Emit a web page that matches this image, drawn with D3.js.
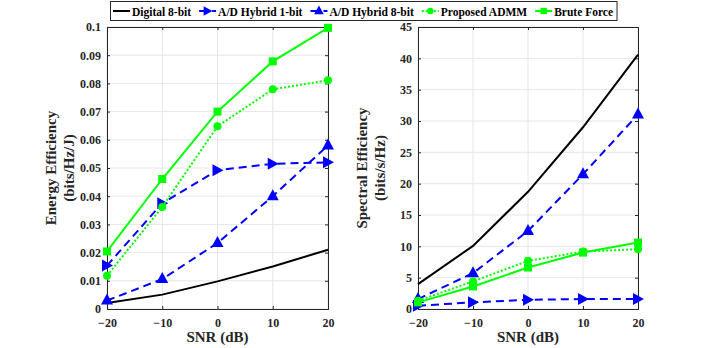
<!DOCTYPE html>
<html>
<head>
<meta charset="utf-8">
<script src="https://cdn.jsdelivr.net/npm/d3@7"></script>
<style>
  body { margin: 0; background: white; }
  svg text { font-family: "Liberation Serif", "Times New Roman", Times, "DejaVu Serif", serif !important; font-weight: bold; fill: #262626; }
</style>
</head>
<body>
<div id="chart"></div>
<script>
const snr = [-20, -10, 0, 10, 20]

// energy efficiency (bits/Hz/J)
const eeDigital = [0.0021, 0.0051, 0.0098, 0.0151, 0.021]
const eeHybrid1 = [0.0154, 0.0375, 0.0492, 0.0515, 0.052]
const eeHybrid8 = [0.003, 0.0106, 0.0234, 0.040, 0.058]
const eeAdmm = [0.0118, 0.0362, 0.0648, 0.0779, 0.0811]
const eeBrute = [0.0204, 0.0461, 0.070, 0.0878, 0.0997]

// spectral efficiency (bits/s/Hz)
const seDigital = [3.97, 10.07, 18.7, 29.0, 40.6]
const seHybrid1 = [0.53, 1.06, 1.48, 1.59, 1.59]
const seHybrid8 = [1.59, 5.72, 12.45, 21.5, 31.05]
const seAdmm = [1.32, 4.4, 7.68, 9.17, 9.54]
const seBrute = [1.06, 3.6, 6.62, 9.0, 10.6]

const eeTicks = [0, 0.01, 0.02, 0.03, 0.04, 0.05, 0.06, 0.07, 0.08, 0.09, 0.1]
const seTicks = [0, 5, 10, 15, 20, 25, 30, 35, 40, 45]

const seriesStyle = [
  {name: "Digital 8-bit", color: "#000000", dash: null, marker: null},
  {name: "A/D Hybrid 1-bit", color: "#0000ff", dash: "8,5", marker: "right"},
  {name: "A/D Hybrid 8-bit", color: "#0000ff", dash: "8,5", marker: "up"},
  {name: "Proposed ADMM", color: "#00ff00", dash: "2,2", marker: "circle"},
  {name: "Brute Force", color: "#00ff00", dash: null, marker: "square"}
]

const width = 706, height = 348
const svg = d3.select("#chart").append("svg")
  .attr("width", width).attr("height", height)

function drawMarker(g, type, x, y, color, s = 1) {
  if (type === "right") {
    g.append("path").attr("d", `M${x-5*s},${y-6*s}L${x+6*s},${y}L${x-5*s},${y+6*s}Z`).attr("fill", color)
  } else if (type === "up") {
    g.append("path").attr("d", `M${x},${y-7*s}L${x+6*s},${y+4*s}L${x-6*s},${y+4*s}Z`).attr("fill", color)
  } else if (type === "circle") {
    g.append("circle").attr("cx", x).attr("cy", y).attr("r", 4*s).attr("fill", color)
  } else if (type === "square") {
    g.append("rect").attr("x", x-4*s).attr("y", y-4*s).attr("width", 8*s).attr("height", 8*s).attr("fill", color)
  }
}

function panel(left, right, yMax, ticks, fmt, data, titleLines) {
  const top = 27, bottom = 309
  const x = d3.scaleLinear().domain([-20, 20]).range([left, right])
  const y = d3.scaleLinear().domain([0, yMax]).range([bottom, top])
  const g = svg.append("g")

  // grid
  g.selectAll("line.gx").data(snr).join("line")
    .attr("x1", d => x(d)).attr("x2", d => x(d)).attr("y1", top).attr("y2", bottom)
    .attr("stroke", "#e6e6e6").attr("stroke-width", 1)
  g.selectAll("line.gy").data(ticks).join("line").attr("class", "gy")
    .attr("x1", left).attr("x2", right).attr("y1", d => y(d)).attr("y2", d => y(d))
    .attr("stroke", "#e6e6e6").attr("stroke-width", 1)

  // axes with inward ticks
  g.append("g").attr("transform", `translate(0,${bottom})`)
    .call(d3.axisBottom(x).tickValues(snr).tickSize(-3).tickPadding(9).tickFormat(d3.format("d")))
  g.append("g").attr("transform", `translate(${left},0)`)
    .call(d3.axisLeft(y).tickValues(ticks).tickSize(-3).tickPadding(6).tickFormat(fmt))
  g.append("g").attr("transform", `translate(0,${top})`)
    .call(d3.axisTop(x).tickValues(snr).tickSize(-3).tickFormat(""))
  g.append("g").attr("transform", `translate(${right},0)`)
    .call(d3.axisRight(y).tickValues(ticks).tickSize(-3).tickFormat(""))
  g.selectAll(".domain").attr("stroke", "#262626")
  g.selectAll(".tick line").attr("stroke", "#262626")
  g.selectAll(".tick text").style("font-size", "12px")

  // series
  const line = d3.line().x((d, i) => x(snr[i])).y(d => y(d))
  data.forEach((vals, k) => {
    const s = seriesStyle[k]
    g.append("path").datum(vals).attr("d", line)
      .attr("fill", "none").attr("stroke", s.color).attr("stroke-width", 2)
      .attr("stroke-dasharray", s.dash)
    vals.forEach((v, i) => drawMarker(g, s.marker, x(snr[i]), y(v), s.color))
  })

  // titles
  g.append("text").attr("x", (left + right) / 2).attr("y", 342)
    .attr("text-anchor", "middle").style("font-size", "15px").text("SNR (dB)")
  const cy = (top + bottom) / 2
  titleLines.forEach((t, i) => {
    const tx = left - 51 + i * 18
    g.append("text").attr("transform", `translate(${tx},${cy}) rotate(-90)`)
      .attr("text-anchor", "middle").style("font-size", "15px").text(t)
  })
}

panel(107, 328, 0.1, eeTicks, d => d === 0 ? "0" : d3.format(".2~f")(d),
  [eeDigital, eeHybrid1, eeHybrid8, eeAdmm, eeBrute],
  ["Energy Efficiency", "(bits/Hz/J)"])
panel(418, 638, 45, seTicks, d3.format("d"),
  [seDigital, seHybrid1, seHybrid8, seAdmm, seBrute],
  ["Spectral Efficiency", "(bits/s/Hz)"])

// legend
const lg = svg.append("g")
const box = lg.append("rect").attr("x", 110.5).attr("y", 1.5).attr("height", 19)
  .attr("fill", "white").attr("stroke", "#262626").attr("stroke-width", 1)
let cx = 113
seriesStyle.forEach(s => {
  lg.append("line").attr("x1", cx).attr("x2", cx + 17).attr("y1", 11).attr("y2", 11)
    .attr("stroke", s.color).attr("stroke-width", 2).attr("stroke-dasharray", s.dash)
  drawMarker(lg, s.marker, cx + 8.5, 11, s.color, 0.8)
  const t = lg.append("text").attr("x", cx + 19).attr("y", 15.5)
    .style("font-size", "11.5px").style("fill", "#000").text(s.name)
  cx += 19 + t.node().getComputedTextLength() + 8
})
box.attr("width", cx - 110.5 - 4)
</script>
</body>
</html>
